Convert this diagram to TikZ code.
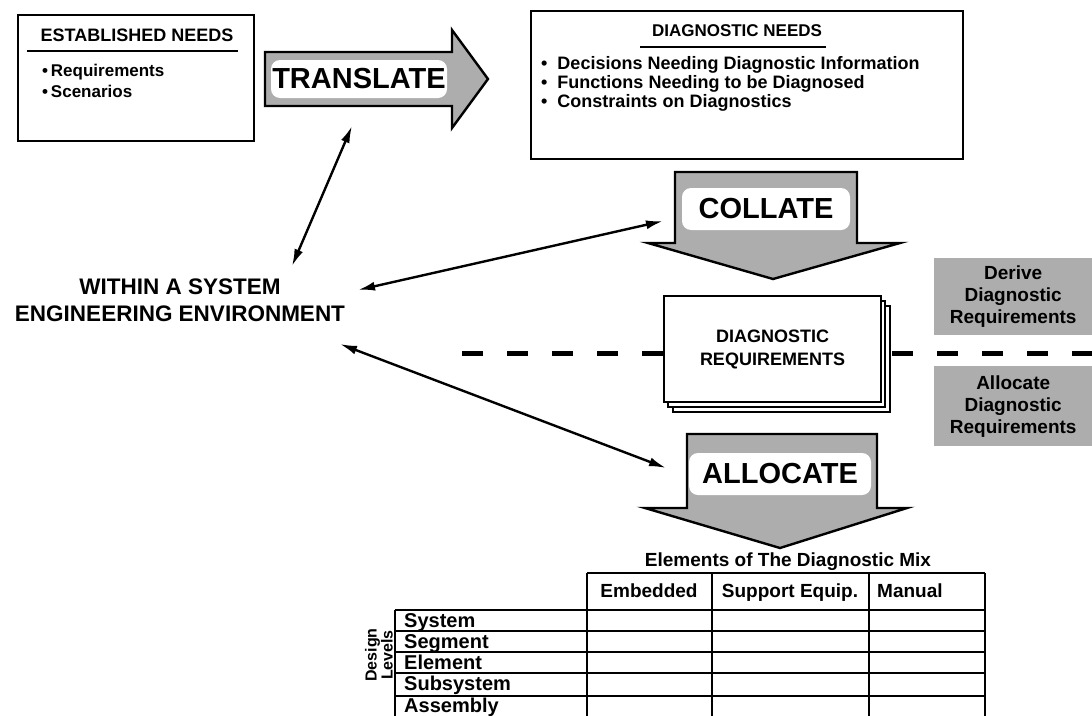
\documentclass[tikz,border=0pt]{standalone}
\usepackage{fontspec}
\setmainfont{Liberation Sans}
\usetikzlibrary{arrows.meta}
\begin{document}
\begin{tikzpicture}[x=1pt,y=-1pt,
  frame/.style={draw,line width=2pt,fill=white},
  conn/.style={line width=2.4pt,{Latex[length=17pt,width=9pt]}-{Latex[length=17pt,width=9pt]}},
  bigarrow/.style={draw,line width=2.4pt,fill=black!32},
  arrowtext/.style={fill=white,rounded corners=9pt,inner sep=0pt,font=\bfseries\fontsize{29}{32}\selectfont},
  shadebox/.style={fill=black!32,inner sep=0pt,align=center,font=\bfseries\fontsize{19}{22}\selectfont},
  dashline/.style={line width=5pt,dash pattern=on 21pt off 24pt},
  grid/.style={line width=2pt},
  t17/.style={inner sep=0pt,font=\bfseries\fontsize{18}{21}\selectfont},
  t15/.style={inner sep=0pt,font=\bfseries\fontsize{17}{20}\selectfont},
  tab/.style={inner sep=0pt,font=\bfseries\fontsize{19}{21}\selectfont},
  rowlbl/.style={inner sep=0pt,anchor=base west,font=\bfseries\fontsize{20}{21}\selectfont},
]
\useasboundingbox (0,0) rectangle (1092,715);
\fill[white] (0,0) rectangle (1092,715);
\clip (0,0) rectangle (1092,715);

% Established needs
\node[frame,anchor=north west,minimum width=236,minimum height=126] (est) at (17,14) {};
\node[t17] (esttitle) at (137,35) {ESTABLISHED NEEDS};
\draw[line width=2.2pt] (27,51) -- (238,51);
\node[t15,anchor=west] (req) at (42,72) {\textbullet\,Requirements};
\node[t15,anchor=west] (scen) at (42,91) {\textbullet\,Scenarios};

% Translate arrow
\draw[bigarrow] (265,52) -- (452,52) -- (452,30) -- (488,79) -- (452,128) -- (452,106) -- (265,106) -- cycle;
\node[arrowtext,minimum width=176,minimum height=38] (translate) at (359,79) {TRANSLATE};

% Diagnostic needs
\node[frame,anchor=north west,minimum width=432,minimum height=148] (dn) at (530,10) {};
\node[inner sep=0pt,font=\bfseries\fontsize{17}{20}\selectfont] (dntitle) at (737,31) {DIAGNOSTIC NEEDS};
\draw[line width=1.8pt] (640,47) -- (826,47);
\node[t17,anchor=west] (dn1) at (541,65) {\textbullet\ \ Decisions Needing Diagnostic Information};
\node[t17,anchor=west] (dn2) at (541,84) {\textbullet\ \ Functions Needing to be Diagnosed};
\node[t17,anchor=west] (dn3) at (541,103) {\textbullet\ \ Constraints on Diagnostics};

% Collate arrow
\draw[bigarrow] (675,172) -- (857,172) -- (857,243) -- (900,243) -- (773,279) -- (648,243) -- (675,243) -- cycle;
\node[arrowtext,minimum width=168,minimum height=42] (collate) at (766,209) {COLLATE};

% Diagnostic requirements (stacked)
\draw[line width=2pt,fill=white] (673,306) rectangle (890,412);
\draw[line width=2pt,fill=white] (668,301) rectangle (885,407);
\node[frame,anchor=north west,minimum width=217,minimum height=106,align=center,
      font=\bfseries\fontsize{18}{23}\selectfont] (dr) at (663,295) {DIAGNOSTIC\\REQUIREMENTS};

% dashed line
\coordinate (dL) at (448,353);
\coordinate (dR) at (1092,353);
\draw[dashline] (dr.west |- dL) -- (dL);
\draw[dashline] ([xshift=10pt]dr.east |- dR) -- (dR);

% shaded boxes
\node[shadebox,anchor=north west,minimum width=158,minimum height=77] (derive) at (934,258) {Derive\\Diagnostic\\Requirements};
\node[shadebox,anchor=north west,minimum width=158,minimum height=80] (alloc) at (934,366) {Allocate\\Diagnostic\\Requirements};

% Allocate arrow
\draw[bigarrow] (687,434) -- (877,434) -- (877,508) -- (907,508) -- (780,548) -- (645,508) -- (687,508) -- cycle;
\node[arrowtext,minimum width=182,minimum height=42] (allocate) at (780,474) {ALLOCATE};

% Within
\node[align=center,inner sep=0pt,font=\bfseries\fontsize{22.5}{27}\selectfont] (within) at (180,300) {WITHIN A SYSTEM\\ENGINEERING ENVIRONMENT};

% connectors
\coordinate (a1s) at (292,266);
\coordinate (a1e) at (352,126);
\coordinate (a2s) at (358,290);
\coordinate (a2e) at (663,221);
\coordinate (a3s) at (340,344);
\coordinate (a3e) at (666,468);
\draw[conn] (a1s) -- (a1e);
\draw[conn] (a2s) -- (a2e);
\draw[conn] (a3s) -- (a3e);

% Table
\node[tab] (mix) at (788,562) {Elements of The Diagnostic Mix};
\draw[grid] (587,573) -- (985,573);
\foreach \yy in {610,631,652,673,696} {\draw[grid] (395,\yy) -- (985,\yy);}
\draw[grid] (395,610) -- (395,720);
\foreach \xx in {587,712,869,985} {\draw[grid] (\xx,573) -- (\xx,720);}
\node[tab,anchor=base] (emb) at (649,597) {Embedded};
\node[tab,anchor=base] (sup) at (790,597) {Support Equip.};
\node[tab,anchor=base west] (man) at (877,597) {Manual};
\node[rowlbl] (r1) at (404,627) {System};
\node[rowlbl] (r2) at (404,648) {Segment};
\node[rowlbl] (r3) at (404,669) {Element};
\node[rowlbl] (r4) at (404,690) {Subsystem};
\node[rowlbl] (r5) at (404,712) {Assembly};
\node[rotate=90,align=center,inner sep=0pt,font=\bfseries\fontsize{16}{16}\selectfont] (levels) at (379,655) {Design\\Levels};
\end{tikzpicture}
\end{document}
